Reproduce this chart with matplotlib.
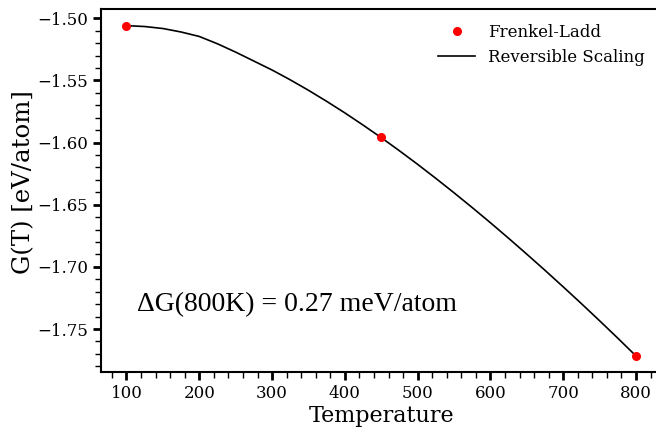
import matplotlib
matplotlib.use("Agg")
import matplotlib.pyplot as plt
from matplotlib.ticker import MultipleLocator, FuncFormatter

# Frenkel-Ladd points
fl_T = [100, 450, 800]
fl_G = [-1.5059, -1.5957, -1.7717]

# Reversible scaling curve
rs_T = [100, 125, 150, 175, 200, 225, 250, 275, 300, 325, 350, 375, 400, 425, 450,
        475, 500, 525, 550, 575, 600, 625, 650, 675, 700, 725, 750, 775, 800]
rs_G = [-1.5059, -1.5066, -1.5082, -1.5110, -1.5146, -1.5205, -1.5272, -1.5344,
        -1.5416, -1.5495, -1.5579, -1.5668, -1.5761, -1.5859, -1.5960,
        -1.6066, -1.6175, -1.6288, -1.6404, -1.6523, -1.6645, -1.6770, -1.6898,
        -1.7028, -1.7161, -1.7296, -1.7434, -1.7574, -1.7717]

annotation = "ΔG(800K) = 0.27 meV/atom"

fig = plt.figure(figsize=(6.56, 4.28), dpi=100)
ax = fig.add_axes([101/656, 1-372/428, 560.5/656, 363/428])

ax.plot(fl_T, fl_G, 'o', color='red', markersize=5.5, label='Frenkel-Ladd', zorder=3)
ax.plot(rs_T, rs_G, '-', color='black', linewidth=1.2, label='Reversible Scaling', zorder=2)

ax.set_xlim(65, 835)
ax.set_ylim(-1.7846, -1.4925)

ax.xaxis.set_major_locator(MultipleLocator(100))
ax.xaxis.set_minor_locator(MultipleLocator(20))
ax.yaxis.set_major_locator(MultipleLocator(0.05))
ax.yaxis.set_minor_locator(MultipleLocator(0.01))
ax.yaxis.set_major_formatter(FuncFormatter(lambda v, p: ('%.2f' % v).replace('-', '\u2212')))

for s in ax.spines.values():
    s.set_linewidth(1.5)

ax.tick_params(axis='both', which='major', direction='out', length=6, width=2,
               labelsize=12)
ax.tick_params(axis='both', which='minor', direction='out', length=4, width=1)
for lbl in ax.get_xticklabels() + ax.get_yticklabels():
    lbl.set_family('DejaVu Serif')

ax.set_xlabel('Temperature', fontsize=16, family='DejaVu Serif', labelpad=2)
ax.set_ylabel('G(T) [eV/atom]', fontsize=17.6, family='DejaVu Serif')
ax.yaxis.set_label_coords(-0.1166, 0.5234)

ax.text(0.064, 0.185, annotation, transform=ax.transAxes, fontsize=20,
        family='Liberation Serif', va='center', ha='left')

leg = ax.legend(loc='upper right', frameon=False, prop={'family': 'DejaVu Serif', 'size': 12},
                bbox_to_anchor=(0.9975, 1.0), handlelength=2.2)

fig.savefig('out.png', dpi=100)
